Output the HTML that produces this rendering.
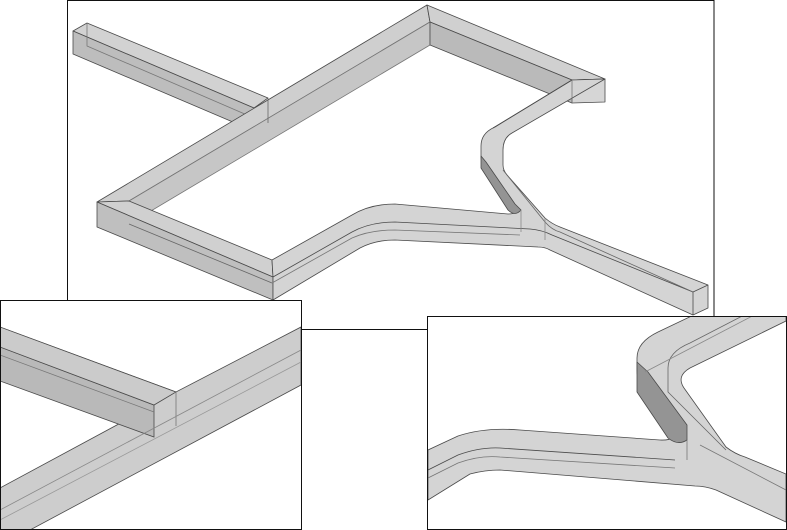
<!DOCTYPE html>
<html><head><meta charset="utf-8"><style>
html,body{margin:0;padding:0;background:#fff;}
svg{display:block;}
</style></head><body>
<svg width="787" height="530" viewBox="0 0 787 530" xmlns="http://www.w3.org/2000/svg">
<rect x="0" y="0" width="787" height="530" fill="#fff"/>
<rect x="67.5" y="0.5" width="646.5" height="329" fill="#fff" stroke="#111" stroke-width="1"/>
<g stroke="#4a4a4a" stroke-width="0.8" stroke-linejoin="round">
  <polygon points="73,31 87,23 268,98 254,108" fill="#d2d2d2"/>
  <polygon points="73,31 254,108 254,131 73,54" fill="#bdbdbd"/>
  <polyline points="87,23 87,46 254,118" fill="none" stroke="#777"/>
  <polygon points="97,202 427,5 430,22 129,201" fill="#cfcfcf"/>
  <polygon points="129,201 430,22 430,45 129,224" fill="#c6c6c6" stroke="#777"/>
  <line x1="268" y1="98" x2="268" y2="123" stroke="#666"/>
  <polygon points="97,202 129,201 272,260 273,277" fill="#d0d0d0"/>
  <polygon points="97,202 273,277 273,300 97,227" fill="#bfbfbf"/>
  <line x1="129" y1="224" x2="272" y2="283" stroke="#666"/>
  <polygon points="427,5 605,79 572,80 430,22" fill="#d0d0d0"/>
  <polygon points="430,22 572,80 572,103 430,45" fill="#bababa"/>
  <polygon points="572,80 605,79 605,102 572,103" fill="#d6d6d6"/>
  <path d="M272,260 L352,215 Q370,204 395,204 L508,214 Q520,214 514,206 L484,166 Q481,162 481,156 L481,146 Q481,133 495,127 L572,80 L605,79 L512,133 Q503,138 503,150 L503,165 Q503,170 507,175 L545,218 Q552,224 560,227 L708,285 L708,308 L693,315 L550,250 Q545,247 538,247 L395,240 Q375,240 360,248 L273,300 L273,277 Z" fill="#d4d4d4"/>
  <path d="M273,277 L352,232 Q370,222 395,222 L530,229 Q542,230 552,235 L693,292" fill="none"/>
  <path d="M272,283 L352,238 Q370,230 395,230 L520,235" fill="none" stroke="#777"/>
  <path d="M481,156 L481,168 L508,210 Q515,217 521,210 L515,204 L486,162 Z" fill="#949494"/>
  <path d="M493,128 L572,80" fill="none"/>
  <path d="M503,170 L545,222 Q552,230 560,232 L693,292" fill="none" stroke="#666"/>
  <path d="M521,210 L521,232 M545,218 L545,240" fill="none" stroke="#888"/>
  <polyline points="693,292 708,285" fill="none"/>
  <line x1="693" y1="292" x2="693" y2="315"/>
  <line x1="572" y1="80" x2="572" y2="103" stroke="#777"/>
</g>

<rect x="0.5" y="300.5" width="301" height="229" fill="#fff" stroke="#111" stroke-width="1"/>
<svg x="1" y="301" width="300" height="228" viewBox="1 301 300 228">
<g stroke="#4a4a4a" stroke-width="0.8">
  <polygon points="0,327 176,392 301,327 301,385 30,530 0,530 0,488 154,405 0,347" fill="#cdcdcd"/>
  <polygon points="0,347 154,405 154,437 0,381" fill="#b9b9b9"/>
  <polygon points="0,327 176,392 154,405 0,347" fill="#cbcbcb"/>
  <line x1="176" y1="392" x2="176" y2="426" stroke="#777"/>
  <line x1="0" y1="510" x2="301" y2="350" stroke="#888"/>
  <line x1="0" y1="520" x2="301" y2="362" stroke="#999"/>
  <line x1="0" y1="355" x2="154" y2="412" stroke="#777"/>
</g>
</svg>

<rect x="427.5" y="316.5" width="359" height="213" fill="#fff" stroke="#111" stroke-width="1"/>
<svg x="428" y="317" width="358" height="212" viewBox="428 317 358 212">
<g stroke="#4a4a4a" stroke-width="0.8" stroke-linejoin="round">
  <path d="M428,450 L458,436 Q485,427 520,430 L660,440 Q676,441 678,430 L640,382 Q637,378 637,370 L637,358 Q637,342 658,332 L700,312 L786,312 L786,321 L690,368 Q676,376 684,388 L726,447 Q735,454 745,457 L786,474 L786,522 L716,490 Q705,486 695,486 L500,470 Q485,470 470,474 L428,500 Z" fill="#d4d4d4"/>
  <path d="M637,362 L637,392 L668,438 Q678,446 687,440 L687,425 L648,372 Z" fill="#949494"/>
  <path d="M428,470 L458,455 Q480,447 500,448 L675,460" fill="none"/>
  <path d="M428,478 L458,463 Q480,455 500,457 L675,468" fill="none" stroke="#777"/>
  <path d="M750,312 L690,343 Q668,352 668,368 L668,392 L726,450" fill="none" stroke="#666"/>
  <path d="M645,372 L760,312" fill="none" stroke="#888"/>
  <path d="M687,440 L687,460 M700,445 L786,490" fill="none" stroke="#777"/>
</g>
</svg>
</svg>
</body></html>
